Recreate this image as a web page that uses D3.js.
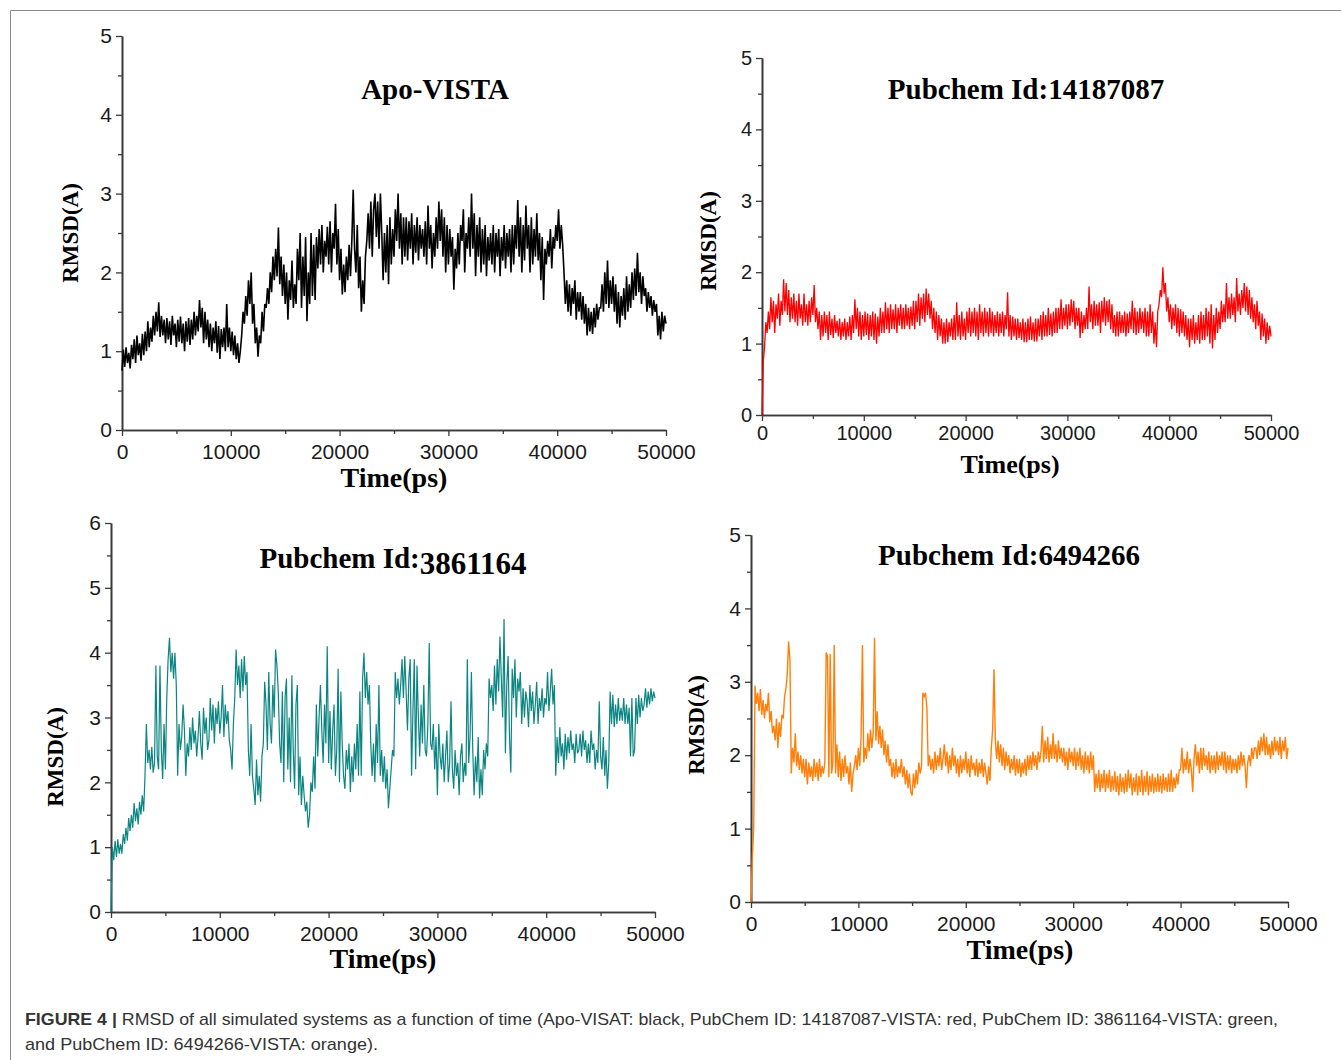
<!DOCTYPE html>
<html>
<head>
<meta charset="utf-8">
<script src="https://cdn.jsdelivr.net/npm/d3@7"></script>
<style>
  body { margin: 0; background: #fff; }
  svg { display: block; }
</style>
</head>
<body>
<svg id="fig" width="1341" height="1060"></svg>
<script>
// sampling interval of the traces (ps)
const timeStep = 125;
const xTicks = [0, 10000, 20000, 30000, 40000, 50000];

// RMSD (A), one value every 125 ps (8 per row = 1000 ps)
const apoVista = [
  0.75, 1.02, 0.8, 1.05, 0.85, 0.98, 0.78, 1.08,
  0.9, 1.15, 0.85, 1.2, 0.95, 1.1, 0.88, 1.22,
  0.95, 1.25, 1.0, 1.38, 1.05, 1.3, 1.12, 1.45,
  1.2, 1.5, 1.25, 1.62, 1.18, 1.45, 1.2, 1.4,
  1.1, 1.42, 1.15, 1.38, 1.08, 1.45, 1.2, 1.35,
  1.05, 1.4, 1.12, 1.44, 1.1, 1.35, 1.0, 1.38,
  1.12, 1.42, 1.08, 1.4, 1.15, 1.5, 1.2, 1.45,
  1.25, 1.65, 1.3, 1.55, 1.1, 1.5, 1.15, 1.4,
  1.05, 1.35, 1.0, 1.3, 1.1, 1.38, 0.98, 1.32,
  0.9, 1.28, 1.05, 1.3, 1.0, 1.6, 1.05, 1.3,
  1.0, 1.25, 0.95, 1.2, 0.9, 1.1, 0.85, 1.0,
  1.2, 1.5, 1.35, 1.7, 1.45, 1.9, 1.6, 2.0,
  1.35, 1.6, 1.1, 1.3, 0.93, 1.2, 1.1, 1.5,
  1.25, 1.6, 1.55, 1.8, 1.6, 2.0, 1.75, 2.2,
  1.9, 2.3, 1.95, 2.57, 1.85, 2.2, 1.7, 2.1,
  1.6, 2.0, 1.4, 1.9, 1.65, 2.15, 1.55, 1.85,
  1.6, 2.3, 1.9, 2.5, 1.55, 2.2, 1.7, 2.45,
  1.38, 2.0, 1.6, 2.5, 1.7, 2.35, 1.65, 2.45,
  2.05, 2.55, 2.1, 2.6, 2.0, 2.4, 2.2, 2.58,
  2.1, 2.65, 2.0, 2.5, 2.3, 2.87, 2.1, 2.55,
  1.9, 2.3, 1.72, 2.1, 1.75, 2.2, 1.9, 2.35,
  1.95, 2.4, 3.05, 2.3, 2.0, 2.6, 1.8, 2.2,
  1.5, 1.9, 1.6, 2.2, 2.4, 2.75, 2.3, 2.9,
  2.2, 2.8, 3.0, 2.45, 2.9, 2.3, 3.0, 2.5,
  1.9, 2.5, 2.0, 2.6, 1.85, 2.7, 2.1, 2.55,
  2.2, 2.8, 2.4, 3.0, 2.3, 2.75, 2.1, 2.7,
  2.2, 2.7, 2.15, 2.65, 2.3, 2.75, 2.1, 2.6,
  2.25, 2.7, 2.15, 2.6, 2.3, 2.55, 2.2, 2.65,
  2.1, 2.85, 2.3, 2.6, 2.05, 2.5, 2.2, 2.7,
  2.3, 2.9, 2.4, 2.8, 2.2, 2.7, 2.0, 2.6,
  2.1, 2.55, 2.2, 2.45, 1.78, 2.3, 2.05, 2.5,
  2.1, 2.6, 2.4, 2.8, 2.0, 2.5, 2.3, 2.7,
  2.2, 3.0, 2.3, 2.75, 1.95, 2.6, 2.2, 2.7,
  2.0, 2.55, 2.1, 2.6, 1.95, 2.45, 2.15, 2.5,
  2.1, 2.6, 2.0, 2.5, 2.2, 2.55, 1.95, 2.45,
  2.15, 2.6, 2.05, 2.5, 2.2, 2.55, 2.0, 2.6,
  2.1, 2.6, 2.3, 2.92, 2.2, 2.7, 2.0, 2.6,
  2.15, 2.85, 2.3, 2.6, 2.0, 2.7, 2.1, 2.55,
  2.2, 2.75, 2.15, 2.5, 1.9, 2.45, 1.65, 2.3,
  2.1, 2.4, 2.2, 2.55, 2.05, 2.45, 2.3, 2.6,
  2.4, 2.8, 2.3, 2.6, 2.35, 2.0, 1.6, 1.9,
  1.5, 1.85, 1.45, 1.8, 1.6, 1.9, 1.4, 1.75,
  1.5, 1.75, 1.4, 1.7, 1.35, 1.6, 1.2, 1.55,
  1.25, 1.5, 1.22, 1.55, 1.3, 1.6, 1.4, 1.55,
  1.55, 1.85, 1.5, 2.0, 1.6, 2.15, 1.55, 1.9,
  1.6, 1.95, 1.5, 1.85, 1.35, 1.75, 1.3, 1.7,
  1.45, 1.8, 1.4, 1.95, 1.5, 1.85, 1.55, 2.0,
  1.65, 2.05, 1.7, 2.25, 1.75, 2.0, 1.6, 1.95,
  1.7, 1.8, 1.5, 1.75, 1.55, 1.7, 1.45, 1.65,
  1.5, 1.6, 1.2, 1.45, 1.15, 1.5, 1.25, 1.45,
  1.35
];

const cid14187087 = [
  0.0, 0.75, 0.95, 1.3, 1.15, 1.45, 1.2, 1.65,
  1.3, 1.6, 1.15, 1.55, 1.35, 1.7, 1.25, 1.6,
  1.4, 1.9, 1.45, 1.85, 1.4, 1.75, 1.3, 1.65,
  1.35, 1.7, 1.3, 1.6, 1.25, 1.7, 1.35, 1.55,
  1.25, 1.7, 1.3, 1.55, 1.25, 1.6, 1.3, 1.65,
  1.4, 1.82, 1.3, 1.5, 1.2, 1.45, 1.05, 1.4,
  1.1, 1.45, 1.15, 1.4, 1.05, 1.45, 1.12, 1.35,
  1.08, 1.4, 1.15, 1.32, 1.1, 1.35, 1.05, 1.3,
  1.1, 1.35, 1.05, 1.3, 1.1, 1.38, 1.05, 1.4,
  1.15, 1.62, 1.2, 1.5, 1.1, 1.45, 1.05, 1.4,
  1.1, 1.45, 1.12, 1.42, 1.05, 1.4, 1.1, 1.45,
  1.05, 1.42, 1.0, 1.38, 1.1, 1.5, 1.15, 1.45,
  1.15, 1.58, 1.2, 1.5, 1.15, 1.55, 1.2, 1.48,
  1.2, 1.55, 1.15, 1.5, 1.25, 1.55, 1.2, 1.5,
  1.2, 1.55, 1.25, 1.5, 1.2, 1.52, 1.25, 1.6,
  1.2, 1.6, 1.3, 1.7, 1.25, 1.65, 1.35, 1.7,
  1.3, 1.77, 1.4, 1.7, 1.35, 1.6, 1.2, 1.5,
  1.15, 1.45, 1.05, 1.4, 1.1, 1.35, 1.0, 1.3,
  1.0, 1.35, 1.02, 1.3, 1.1, 1.35, 1.05, 1.4,
  1.05, 1.58, 1.1, 1.4, 1.05, 1.45, 1.1, 1.35,
  1.05, 1.45, 1.15, 1.5, 1.1, 1.45, 1.15, 1.5,
  1.1, 1.45, 1.05, 1.55, 1.15, 1.45, 1.1, 1.5,
  1.15, 1.45, 1.1, 1.5, 1.15, 1.45, 1.1, 1.4,
  1.15, 1.45, 1.1, 1.42, 1.15, 1.45, 1.1, 1.4,
  1.2, 1.72, 1.1, 1.4, 1.05, 1.38, 1.1, 1.35,
  1.05, 1.35, 1.08, 1.3, 1.05, 1.35, 1.02, 1.3,
  1.02, 1.35, 1.05, 1.38, 1.05, 1.3, 1.03, 1.35,
  1.03, 1.35, 1.1, 1.4, 1.05, 1.45, 1.1, 1.4,
  1.1, 1.5, 1.12, 1.42, 1.1, 1.45, 1.15, 1.5,
  1.15, 1.5, 1.2, 1.62, 1.2, 1.5, 1.25, 1.55,
  1.2, 1.55, 1.25, 1.62, 1.3, 1.6, 1.2, 1.5,
  1.25, 1.5, 1.08, 1.45, 1.15, 1.4, 1.2, 1.5,
  1.2, 1.8, 1.3, 1.55, 1.2, 1.6, 1.25, 1.55,
  1.25, 1.58, 1.15, 1.6, 1.3, 1.65, 1.25, 1.6,
  1.3, 1.62, 1.2, 1.55, 1.15, 1.4, 1.1, 1.45,
  1.1, 1.45, 1.15, 1.4, 1.15, 1.45, 1.1, 1.42,
  1.15, 1.45, 1.2, 1.6, 1.15, 1.5, 1.12, 1.45,
  1.15, 1.5, 1.2, 1.45, 1.15, 1.5, 1.1, 1.45,
  1.1, 1.55, 1.15, 1.45, 1.0, 1.3, 0.95, 1.45,
  1.55, 1.75, 1.65, 2.07, 1.7, 1.85, 1.45, 1.65,
  1.3, 1.55, 1.2, 1.5, 1.25, 1.55, 1.15, 1.5,
  1.1, 1.48, 1.15, 1.45, 1.1, 1.4, 1.05, 1.35,
  0.95, 1.35, 1.05, 1.4, 1.0, 1.3, 1.05, 1.4,
  1.0, 1.45, 1.05, 1.4, 1.05, 1.5, 1.1, 1.45,
  1.0, 1.55, 0.93, 1.4, 1.05, 1.5, 1.15, 1.45,
  1.2, 1.6, 1.3, 1.55, 1.3, 1.85, 1.35, 1.65,
  1.35, 1.7, 1.4, 1.65, 1.3, 1.92, 1.45, 1.7,
  1.4, 1.75, 1.5, 1.85, 1.45, 1.8, 1.4, 1.75,
  1.35, 1.65, 1.3, 1.55, 1.2, 1.6, 1.25, 1.45,
  1.05, 1.42, 1.1, 1.35, 1.0, 1.3, 1.05, 1.25,
  1.1
];

const cid3861164 = [
  0.0, 1.0, 0.8, 1.1, 0.85, 1.12, 0.9, 1.05,
  0.9, 1.2, 1.05, 1.3, 1.1, 1.45, 1.25, 1.5,
  1.3, 1.68, 1.4, 1.6, 1.35, 1.7, 1.5, 1.8,
  1.55, 2.1, 2.9, 2.3, 2.5, 2.2, 2.55, 2.15,
  2.3, 3.8, 2.4, 2.2, 3.8, 2.5, 2.05, 2.9,
  2.2, 3.3, 3.9, 4.23, 3.7, 4.0, 3.6, 4.0,
  3.5, 2.1, 2.9, 2.5, 2.7, 3.2, 2.8, 2.1,
  2.6, 2.4, 2.85, 2.5, 3.0, 2.6, 2.8, 2.4,
  2.7, 3.1, 2.6, 2.35, 3.15, 2.75, 3.0, 2.5,
  2.65, 3.3, 2.8, 3.2, 2.6, 3.15, 2.9, 3.25,
  2.75, 3.0, 3.5, 2.7, 3.2, 2.9, 3.1, 2.65,
  2.5, 2.2, 2.9, 3.3, 4.05, 3.5, 3.8, 3.3,
  3.9, 3.4, 3.95, 3.5, 3.7, 2.5, 2.1, 2.9,
  2.1, 1.9, 1.65, 2.35, 1.8, 2.1, 1.7, 2.4,
  2.6, 3.55, 3.2, 2.5, 3.7, 2.9, 2.6, 3.5,
  3.0, 4.05, 3.8, 3.4, 2.6, 2.3, 3.4, 2.0,
  3.3, 3.6, 2.2, 3.0, 2.0, 3.65, 2.5, 1.9,
  3.2, 3.5, 1.8, 2.4, 1.65, 2.1, 1.8, 1.55,
  1.7, 1.3, 1.5, 2.0, 1.85, 2.4, 1.9, 3.2,
  2.4, 3.0, 3.5, 2.8, 2.3, 3.2, 2.6, 4.1,
  2.3, 3.1, 2.2, 2.8, 3.2, 2.1, 2.5, 3.75,
  2.0, 3.4, 2.6, 2.1, 1.9, 2.5, 2.2, 2.6,
  1.85, 2.4, 2.0, 2.6, 2.2, 2.9, 2.1, 3.4,
  2.1, 3.6, 4.0, 3.3, 3.7, 3.2, 3.5, 2.6,
  2.1, 2.6, 2.0, 2.9, 2.3, 3.5, 2.1, 2.5,
  2.0, 2.4, 1.9, 2.2, 1.6, 1.9, 2.2, 2.5,
  2.4, 3.7, 3.3, 3.6, 3.2, 3.5, 3.9, 3.3,
  3.95, 3.4, 2.8, 3.6, 3.9, 2.1, 3.1, 3.9,
  2.2, 3.8, 3.0, 2.4, 3.2, 2.6, 3.5, 2.5,
  2.4, 2.9, 4.15, 2.6, 2.5, 2.9, 2.2, 2.7,
  1.8, 2.9, 2.4, 2.2, 2.6, 2.0, 2.4, 2.8,
  2.0, 2.3, 3.25, 2.2, 1.9, 2.5, 2.1, 2.3,
  1.8, 2.4, 2.6, 2.0, 2.3, 2.1, 3.9, 2.3,
  2.7, 3.7, 2.5, 1.8, 2.4, 2.0, 2.7, 1.75,
  2.2, 1.8, 2.5, 2.2, 2.6, 2.4, 3.6, 3.3,
  3.5, 3.1, 3.8, 3.2, 3.9, 3.4, 4.25, 3.6,
  3.0, 4.52, 2.45, 3.5, 3.95, 2.7, 2.15, 3.75,
  3.3, 3.9, 3.0, 3.6, 3.4, 3.7, 2.9, 3.45,
  3.0, 3.4, 3.25, 2.85, 3.5, 3.1, 3.4, 2.9,
  3.2, 3.55, 2.9, 3.3, 3.1, 3.45, 3.0, 3.3,
  3.2, 3.7, 3.1, 3.4, 3.75, 3.2, 3.5, 2.1,
  2.7, 2.3, 2.85, 2.4, 2.6, 2.2, 2.75, 2.35,
  2.7, 2.45, 2.8, 2.5, 2.6, 2.3, 2.75, 2.45,
  2.5, 2.75, 2.4, 2.8, 2.5, 2.65, 2.3, 2.6,
  2.3, 2.8, 2.5, 2.6, 2.2, 2.5, 2.3, 3.25,
  2.4, 2.2, 2.7, 2.1, 2.5, 1.9, 2.3, 3.4,
  2.9, 3.35, 2.85, 3.2, 2.9, 3.3, 2.95, 3.15,
  2.95, 3.3, 2.9, 3.2, 2.9, 3.15, 2.4, 3.3,
  2.4, 2.5, 3.3, 2.9, 3.35, 3.0, 3.3, 3.1,
  3.2, 3.45, 3.15, 3.4, 3.2, 3.45, 3.25, 3.4,
  3.3
];

const cid6494266 = [
  0.0, 0.6, 1.0, 2.95, 2.7, 2.85, 2.6, 2.9,
  2.55, 2.75, 2.5, 2.7, 2.6, 2.85, 2.45, 2.6,
  2.3, 2.4, 2.2, 2.5, 2.1, 2.45, 2.25, 2.55,
  2.5, 2.8, 2.9, 3.1, 3.55, 3.3, 1.75, 2.1,
  1.9, 2.3, 1.85, 2.05, 1.8, 2.0, 1.75, 1.95,
  1.7, 1.95, 1.6, 1.9, 1.7, 1.85, 1.65, 1.95,
  1.7, 1.9, 1.65, 1.95, 1.7, 1.85, 1.75, 1.9,
  3.4, 3.35, 1.7, 3.38, 1.75, 1.9, 3.5, 1.75,
  2.15, 1.7, 2.05, 1.65, 1.95, 1.7, 2.0, 1.75,
  1.85, 1.6, 1.9, 1.5, 1.75, 1.85, 2.0, 1.8,
  2.1, 1.85, 2.25, 3.5, 1.9, 2.1, 1.95, 2.3,
  2.05, 2.35, 2.1, 2.3, 3.6, 2.2, 2.6, 2.15,
  2.4, 2.1, 2.35, 2.0, 2.2, 1.9, 2.15, 1.85,
  1.95, 1.7, 1.9, 1.68, 1.95, 1.7, 1.85, 1.75,
  1.95, 1.7, 1.85, 1.6, 1.8, 1.55, 1.75, 1.5,
  1.45, 1.75, 1.55, 1.8, 1.6, 1.9, 1.75, 1.85,
  2.85, 2.8, 2.85, 2.65, 1.85, 2.0, 1.8, 1.95,
  1.75, 2.05, 1.8, 2.0, 1.85, 2.1, 1.8, 1.95,
  2.15, 1.85, 2.05, 1.75, 2.0, 1.8, 2.1, 1.85,
  2.0, 1.75, 1.95, 1.7, 2.0, 1.75, 1.95, 1.8,
  2.05, 1.75, 1.95, 1.7, 2.0, 1.8, 1.9, 1.72,
  1.95, 1.7, 1.9, 1.75, 1.95, 1.7, 1.9, 1.75,
  1.6, 1.85, 1.65, 2.1, 2.35, 3.17, 2.2, 1.95,
  2.2, 1.9, 2.15, 1.85, 2.1, 1.8, 2.05, 1.85,
  2.0, 1.75, 1.95, 1.8, 2.0, 1.72, 1.95, 1.75,
  1.95, 1.7, 1.9, 1.75, 1.95, 1.72, 2.0, 1.8,
  2.0, 1.8, 2.05, 1.85, 2.0, 1.8, 2.05, 1.9,
  2.05, 2.4, 1.9, 2.2, 1.95, 2.25, 1.9, 2.15,
  1.95, 2.3, 1.95, 2.15, 1.9, 2.2, 1.95, 2.1,
  1.9, 2.1, 1.85, 2.05, 1.8, 2.1, 1.9, 2.05,
  1.85, 2.1, 1.8, 2.05, 1.85, 2.1, 1.8, 2.0,
  1.75, 2.05, 1.8, 2.0, 1.75, 2.05, 1.8, 2.0,
  1.5, 1.75, 1.55, 1.8, 1.5, 1.75, 1.55, 1.8,
  1.5, 1.75, 1.55, 1.8, 1.5, 1.72, 1.52, 1.78,
  1.5, 1.72, 1.45, 1.75, 1.5, 1.7, 1.48, 1.75,
  1.5, 1.8, 1.55, 1.75, 1.45, 1.7, 1.5, 1.75,
  1.45, 1.72, 1.5, 1.8, 1.45, 1.72, 1.5, 1.78,
  1.45, 1.72, 1.5, 1.75, 1.48, 1.7, 1.5, 1.75,
  1.5, 1.72, 1.48, 1.75, 1.52, 1.7, 1.5, 1.75,
  1.5, 1.8, 1.5, 1.7, 1.55, 1.75, 1.6, 1.8,
  1.8, 2.1, 1.75, 1.95, 1.8, 2.05, 1.75, 1.95,
  1.8, 1.5, 1.95, 2.15, 1.85, 2.05, 1.75, 2.1,
  1.8, 2.1, 1.85, 2.0, 1.8, 2.05, 1.75, 2.0,
  1.8, 2.0, 1.75, 2.05, 1.8, 2.0, 1.85, 2.05,
  1.8, 2.05, 1.75, 2.0, 1.8, 2.0, 1.75, 1.95,
  1.8, 1.95, 1.75, 2.0, 1.8, 2.05, 1.85, 2.0,
  1.85, 1.55, 1.9, 2.0, 1.85, 2.1, 1.95, 2.1,
  2.1, 1.95, 2.2, 2.0, 2.25, 2.05, 2.3, 2.0,
  2.25, 2.0, 2.15, 1.95, 2.2, 2.0, 2.25, 2.05,
  2.2, 2.0, 2.25, 1.95, 2.2, 2.05, 2.25, 1.95,
  2.1
];

const titleText = ['Apo-VISTA', 'Pubchem Id:14187087', 'Pubchem Id:', 'Pubchem Id:6494266'];
const yLabelText = 'RMSD(A)';
const xLabelText = 'Time(ps)';

const serif = '"Liberation Serif", "Times New Roman", serif';
const sans = '"Liberation Sans", Arial, sans-serif';

// layout of the four panels
const panels = [
  { values: apoVista, color: '#000000', width: 1.6, yMax: 5,
    x0: 122, x1: 666, y0: 430, y1: 36, tickFont: 21, xPad: 8,
    title: titleText[0], titleX: 435, titleY: 99,
    yLabX: 78, yLabY: 233, xLabX: 394, xLabY: 487, xLabFont: 28 },
  { values: cid14187087, color: '#ff0000', width: 1.3, yMax: 5,
    x0: 762, x1: 1271, y0: 415, y1: 58, tickFont: 20, xPad: 5,
    title: titleText[1], titleX: 1026, titleY: 99,
    yLabX: 716, yLabY: 241, xLabX: 1010, xLabY: 473, xLabFont: 26 },
  { values: cid3861164, color: '#0b8582', width: 1.2, yMax: 6,
    x0: 111, x1: 655, y0: 912, y1: 523, tickFont: 21, xPad: 8,
    title: titleText[2], titleSub: '3861164', titleX: 393, titleY: 568,
    yLabX: 63, yLabY: 757, xLabX: 383, xLabY: 968, xLabFont: 28 },
  { values: cid6494266, color: '#ff7f0a', width: 1.4, yMax: 5,
    x0: 751, x1: 1288, y0: 902, y1: 535, tickFont: 21, xPad: 8,
    title: titleText[3], titleX: 1009, titleY: 565,
    yLabX: 704, yLabY: 725, xLabX: 1020, xLabY: 959, xLabFont: 28 }
];

const svg = d3.select('#fig');

// outer frame of the figure
svg.append('path')
  .attr('d', 'M10.5,1060 V10.5 H1341')
  .attr('fill', 'none')
  .attr('stroke', '#8a8a8a')
  .attr('stroke-width', 1);

function styleAxis(g, size) {
  g.select('.domain').attr('stroke', '#3a3a3a').attr('stroke-width', 1.6);
  g.selectAll('.tick line').attr('stroke', '#3a3a3a').attr('stroke-width', 1.3);
  g.selectAll('.tick text')
    .attr('fill', '#1a1a1a')
    .style('font-family', sans)
    .style('font-size', size + 'px');
}

function drawPanel(p) {
  const g = svg.append('g');
  const x = d3.scaleLinear().domain([0, 50000]).range([p.x0, p.x1]);
  const y = d3.scaleLinear().domain([0, p.yMax]).range([p.y0, p.y1]);

  // minor ticks
  g.append('g')
    .attr('transform', `translate(0,${p.y0})`)
    .call(d3.axisBottom(x).tickValues(d3.range(5000, 50000, 10000)).tickSize(4).tickSizeOuter(0).tickFormat(''))
    .call(styleAxis, p.tickFont);
  g.append('g')
    .attr('transform', `translate(${p.x0},0)`)
    .call(d3.axisLeft(y).tickValues(d3.range(0.5, p.yMax, 1)).tickSize(4).tickSizeOuter(0).tickFormat(''))
    .call(styleAxis, p.tickFont);

  // major ticks and labels
  g.append('g')
    .attr('transform', `translate(0,${p.y0})`)
    .call(d3.axisBottom(x).tickValues(xTicks).tickSize(6).tickSizeOuter(0).tickPadding(p.xPad).tickFormat(d3.format('d')))
    .call(styleAxis, p.tickFont);
  g.append('g')
    .attr('transform', `translate(${p.x0},0)`)
    .call(d3.axisLeft(y).ticks(p.yMax).tickSize(6).tickSizeOuter(0).tickPadding(4).tickFormat(d3.format('d')))
    .call(styleAxis, p.tickFont);

  // RMSD trace
  const line = d3.line()
    .x((d, i) => x(i * timeStep))
    .y(d => y(d));
  g.append('path')
    .datum(p.values)
    .attr('d', line)
    .attr('fill', 'none')
    .attr('stroke', p.color)
    .attr('stroke-width', p.width)
    .attr('stroke-linejoin', 'miter');

  // title
  const t = g.append('text')
    .attr('x', p.titleX)
    .attr('y', p.titleY)
    .attr('text-anchor', 'middle')
    .style('font-family', serif)
    .style('font-weight', 'bold')
    .style('font-size', '29px')
    .text(p.title);
  if (p.titleSub) {
    t.append('tspan').attr('dy', 6).style('font-size', '31px').text(p.titleSub);
  }

  // axis titles
  g.append('text')
    .attr('transform', `translate(${p.yLabX},${p.yLabY}) rotate(-90)`)
    .attr('text-anchor', 'middle')
    .style('font-family', serif)
    .style('font-weight', 'bold')
    .style('font-size', '23px')
    .text(yLabelText);
  g.append('text')
    .attr('x', p.xLabX)
    .attr('y', p.xLabY)
    .attr('text-anchor', 'middle')
    .style('font-family', serif)
    .style('font-weight', 'bold')
    .style('font-size', p.xLabFont + 'px')
    .text(xLabelText);
}

panels.forEach(drawPanel);

// caption
const cap1 = svg.append('text')
  .attr('x', 25).attr('y', 1025)
  .attr('textLength', 1253).attr('lengthAdjust', 'spacingAndGlyphs')
  .style('font-family', sans)
  .style('font-size', '17px')
  .attr('fill', '#333');
cap1.append('tspan').style('font-weight', 'bold').text('FIGURE 4 | ');
cap1.append('tspan').text('RMSD of all simulated systems as a function of time (Apo-VISAT: black, PubChem ID: 14187087-VISTA: red, PubChem ID: 3861164-VISTA: green,');

svg.append('text')
  .attr('x', 25).attr('y', 1050)
  .attr('textLength', 353).attr('lengthAdjust', 'spacingAndGlyphs')
  .style('font-family', sans)
  .style('font-size', '17px')
  .attr('fill', '#333')
  .text('and PubChem ID: 6494266-VISTA: orange).');
</script>
</body>
</html>
